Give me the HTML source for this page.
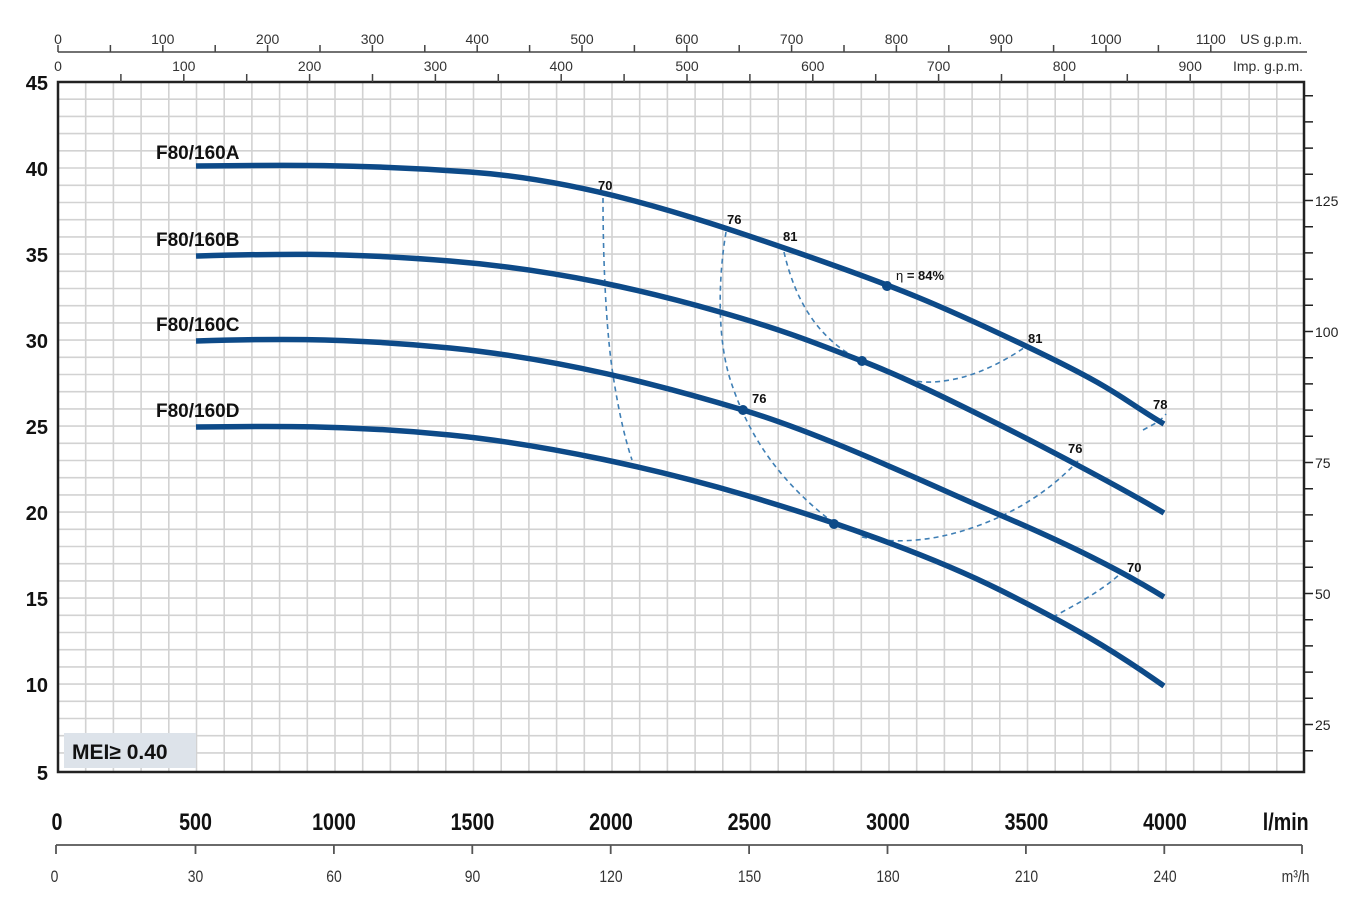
<!DOCTYPE html>
<html><head><meta charset="utf-8"><style>
html,body{margin:0;padding:0;background:#fff;}
svg{display:block;font-family:"Liberation Sans",sans-serif;}
</style></head><body>
<svg width="1362" height="903" viewBox="0 0 1362 903" xmlns="http://www.w3.org/2000/svg">
<g stroke="#d2d2d2" stroke-width="1.6">
<path d="M85.7 82V772M113.4 82V772M141.1 82V772M168.8 82V772M196.5 82V772M224.2 82V772M251.9 82V772M279.6 82V772M307.3 82V772M335 82V772M362.7 82V772M390.4 82V772M418.1 82V772M445.8 82V772M473.5 82V772M501.2 82V772M528.9 82V772M556.6 82V772M584.3 82V772M612 82V772M639.7 82V772M667.4 82V772M695.1 82V772M722.8 82V772M750.5 82V772M778.2 82V772M805.9 82V772M833.6 82V772M861.3 82V772M889 82V772M916.7 82V772M944.4 82V772M972.1 82V772M999.8 82V772M1027.5 82V772M1055.2 82V772M1082.9 82V772M1110.6 82V772M1138.3 82V772M1166 82V772M1193.7 82V772M1221.4 82V772M1249.1 82V772M1276.8 82V772"/>
<path d="M58 99.2H1304M58 116.4H1304M58 133.6H1304M58 150.8H1304M58 168H1304M58 185.3H1304M58 202.5H1304M58 219.7H1304M58 236.9H1304M58 254.1H1304M58 271.3H1304M58 288.5H1304M58 305.7H1304M58 322.9H1304M58 340.1H1304M58 357.3H1304M58 374.5H1304M58 391.7H1304M58 408.9H1304M58 426.1H1304M58 443.3H1304M58 460.5H1304M58 477.7H1304M58 494.9H1304M58 512.1H1304M58 529.3H1304M58 546.5H1304M58 563.7H1304M58 580.9H1304M58 598.1H1304M58 615.3H1304M58 632.5H1304M58 649.7H1304M58 666.9H1304M58 684.1H1304M58 701.3H1304M58 718.5H1304M58 735.7H1304M58 752.9H1304"/>
</g>
<rect x="58" y="82" width="1246" height="690" fill="none" stroke="#222" stroke-width="2.5"/>
<rect x="64" y="733" width="132" height="35" fill="#dde3ea"/>
<text x="72" y="759" font-size="21" font-weight="bold" fill="#111">MEI≥ 0.40</text>
<g font-size="20" font-weight="bold" fill="#111" text-anchor="end">
<text x="48" y="90">45</text><text x="48" y="176">40</text><text x="48" y="262">35</text><text x="48" y="348">30</text><text x="48" y="434">25</text><text x="48" y="520">20</text><text x="48" y="606">15</text><text x="48" y="692">10</text><text x="48" y="780">5</text>
</g>
<g stroke="#222" stroke-width="1.5">
<path d="M1304 95.7h9M1304 121.9h9M1304 148.1h9M1304 174.3h9M1304 200.5h9M1304 226.7h9M1304 252.9h9M1304 279.1h9M1304 305.3h9M1304 331.5h9M1304 357.7h9M1304 383.9h9M1304 410.1h9M1304 436.3h9M1304 462.5h9M1304 488.7h9M1304 514.9h9M1304 541.1h9M1304 567.3h9M1304 593.5h9M1304 619.7h9M1304 645.9h9M1304 672.1h9M1304 698.3h9M1304 724.5h9M1304 750.7h9"/>
</g>
<g font-size="14" fill="#222">
<text x="1315" y="206">125</text><text x="1315" y="337">100</text><text x="1315" y="468">75</text><text x="1315" y="599">50</text><text x="1315" y="730">25</text>
</g>
<path d="M58 52H1307" stroke="#444" stroke-width="1.5"/>
<g stroke="#444" stroke-width="1.5">
<path d="M58 45v7M110.4 45v7M162.8 45v7M215.2 45v7M267.6 45v7M320 45v7M372.4 45v7M424.8 45v7M477.2 45v7M529.6 45v7M582 45v7M634.4 45v7M686.8 45v7M739.2 45v7M791.6 45v7M844 45v7M896.4 45v7M948.8 45v7M1001.2 45v7M1053.6 45v7M1106 45v7M1158.4 45v7M1210.8 45v7"/>
<path d="M120.9 74v8M183.8 74v8M246.7 74v8M309.6 74v8M372.5 74v8M435.4 74v8M498.3 74v8M561.2 74v8M624.1 74v8M687 74v8M749.9 74v8M812.8 74v8M875.7 74v8M938.6 74v8M1001.5 74v8M1064.4 74v8M1127.3 74v8M1190.2 74v8"/>
</g>
<g font-size="14" fill="#333" text-anchor="middle">
<text x="58" y="44">0</text><text x="162.8" y="44">100</text><text x="267.6" y="44">200</text><text x="372.4" y="44">300</text><text x="477.2" y="44">400</text><text x="582" y="44">500</text><text x="686.8" y="44">600</text><text x="791.6" y="44">700</text><text x="896.4" y="44">800</text><text x="1001.2" y="44">900</text><text x="1106" y="44">1000</text><text x="1210.8" y="44">1100</text>
<text x="58" y="71">0</text><text x="183.8" y="71">100</text><text x="309.6" y="71">200</text><text x="435.4" y="71">300</text><text x="561.2" y="71">400</text><text x="687" y="71">500</text><text x="812.8" y="71">600</text><text x="938.6" y="71">700</text><text x="1064.4" y="71">800</text><text x="1190.2" y="71">900</text>
</g>
<text x="1240" y="44" font-size="14" fill="#333">US g.p.m.</text>
<text x="1233" y="71" font-size="14" fill="#333">Imp. g.p.m.</text>
<g font-size="24" font-weight="bold" fill="#111" text-anchor="middle" transform="scale(0.82,1)">
<text x="69.5" y="830">0</text><text x="238.4" y="830">500</text><text x="407.3" y="830">1000</text><text x="576.2" y="830">1500</text><text x="745.1" y="830">2000</text><text x="914" y="830">2500</text><text x="1082.9" y="830">3000</text><text x="1251.8" y="830">3500</text><text x="1420.7" y="830">4000</text><text x="1568" y="830">l/min</text>
</g>
<path d="M56 845H1302" stroke="#555" stroke-width="1.8"/>
<g stroke="#555" stroke-width="1.8"><path d="M56 845v9M195.5 845v9M333.9 845v9M472.3 845v9M610.7 845v9M749.1 845v9M887.5 845v9M1025.9 845v9M1164.3 845v9M1302 845v9"/></g>
<g font-size="17" fill="#333" text-anchor="middle" transform="scale(0.82,1)">
<text x="66.5" y="882">0</text><text x="238.4" y="882">30</text><text x="407.3" y="882">60</text><text x="576.2" y="882">90</text><text x="745.1" y="882">120</text><text x="914" y="882">150</text><text x="1082.9" y="882">180</text><text x="1251.8" y="882">210</text><text x="1420.7" y="882">240</text><text x="1580" y="882">m³/h</text>
</g>
<g fill="none" stroke="#3f7fb5" stroke-width="1.6" stroke-dasharray="5,4">
<path d="M603 198C603 260 606 330 613 375S627 445 632 460"/>
<path d="M726 232C718 280 717 340 731 382S770 475 835 524"/>
<path d="M784 252C795 300 818 340 862 361S920 385 950 380S1010 358 1028 345"/>
<path d="M862 537C900 545 940 540 980 525S1050 490 1078 461"/>
<path d="M1053 617C1075 605 1100 592 1120 574"/>
<path d="M1143 430C1152 425 1160 422 1166 414"/>
</g>
<g fill="none" stroke="#0d4a88" stroke-width="5.5" stroke-linecap="butt">
<path d="M196 166C280 165 360 164 470 172S680 212 790 250S940 305 1030 348S1120 398 1164 424"/>
<path d="M196 256C270 254 340 252 450 261S650 292 720 312S820 345 862 361S960 405 1000 425S1120 487 1164 513"/>
<path d="M196 341C260 339 340 337 450 348S660 385 743 410S930 485 1000 515S1120 570 1164 597"/>
<path d="M196 427C270 426 350 425 450 435S660 470 745 495S930 555 1000 590S1110 648 1164 686"/>
</g>
<g fill="#0d4a88"><circle cx="887" cy="286" r="5"/><circle cx="862" cy="361" r="5"/><circle cx="743" cy="410" r="5"/><circle cx="834" cy="524" r="5"/></g>
<g font-size="19" font-weight="bold" fill="#111">
<text x="156" y="159">F80/160A</text><text x="156" y="246">F80/160B</text><text x="156" y="331">F80/160C</text><text x="156" y="417">F80/160D</text>
</g>
<g font-size="13" font-weight="bold" fill="#111">
<text x="598" y="190">70</text><text x="727" y="224">76</text><text x="783" y="241">81</text><text x="1028" y="343">81</text><text x="1153" y="409">78</text><text x="752" y="403">76</text><text x="1068" y="453">76</text><text x="1127" y="572">70</text>
<text x="896" y="280"><tspan font-weight="normal">η</tspan> = 84%</text>
</g>
</svg>
</body></html>
